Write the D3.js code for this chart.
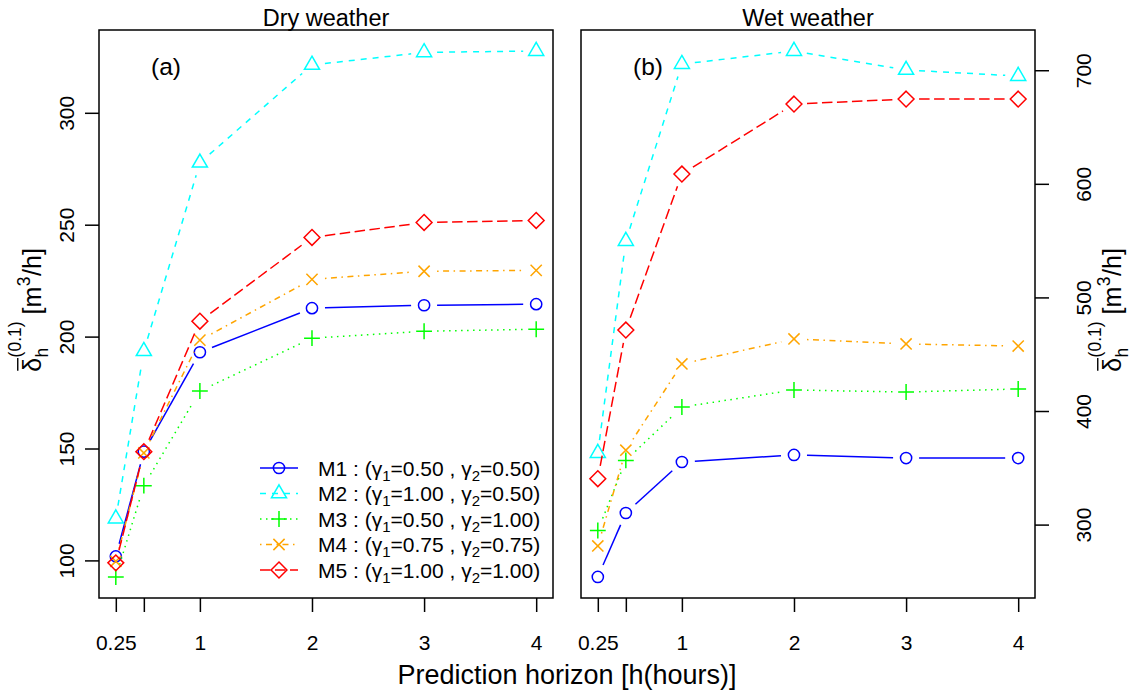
<!DOCTYPE html>
<html><head><meta charset="utf-8">
<script src="https://cdn.jsdelivr.net/npm/d3@7"></script>
<style>
body{margin:0;background:#fff;}
text{font-family:"Liberation Sans",Arial,Helvetica,sans-serif;fill:#000;}
</style></head>
<body><svg id="c" width="1133" height="695"></svg>
<script>
// ---------------- data ----------------
const horizons = [0.25, 0.5, 1, 2, 3, 4];
const xTickLabels = ["0.25", "", "1", "2", "3", "4"];
const modelNames = ["M1", "M2", "M3", "M4", "M5"];
const gamma1 = ["0.50", "1.00", "0.50", "0.75", "1.00"];
const gamma2 = ["0.50", "0.50", "1.00", "0.75", "1.00"];
const dryM1 = [101.8, 148.6, 193.0, 212.7, 214.0, 214.5];
const dryM2 = [118.7, 193.5, 277.7, 321.4, 327.0, 327.6];
const dryM3 = [92.6, 133.4, 175.7, 199.3, 202.4, 203.3];
const dryM4 = [99.6, 148.0, 198.4, 225.6, 229.2, 229.6];
const dryM5 = [98.9, 148.6, 206.9, 244.3, 251.0, 251.9];
const wetM1 = [253.9, 310.2, 355.1, 361.3, 358.6, 358.6];
const wetM2 = [363.0, 549.6, 705.4, 716.9, 700.2, 694.9];
const wetM3 = [294.8, 356.5, 403.5, 418.5, 416.7, 419.4];
const wetM4 = [281.2, 365.5, 441.4, 463.4, 459.0, 457.2];
const wetM5 = [340.4, 471.3, 608.6, 670.2, 674.6, 674.6];
const dryTicks = [100, 150, 200, 250, 300];
const wetTicks = [300, 400, 500, 600, 700];
const panelTitles = ["Dry weather", "Wet weather"];
const panelTags = ["(a)", "(b)"];
const xTitle = "Prediction horizon [h(hours)]";

// ---------------- styles ----------------
const colors = ["#0000FF", "#00FFFF", "#00FF00", "#FFA500", "#FF0000"];
const dashes = [null, "6,6", "1.5,4.5", "1.5,4.5,6,4.5", "10.5,4.5"];
const shapes = ["circle", "triangle", "plus", "cross", "diamond"];
const RAD = 5.6, GAP = 13, LW = 1.5;

const svg = d3.select("#c");
const panels = [
  {left: 99, right: 553, series: [dryM1, dryM2, dryM3, dryM4, dryM5], ticks: dryTicks, side: "left"},
  {left: 581, right: 1035, series: [wetM1, wetM2, wetM3, wetM4, wetM5], ticks: wetTicks, side: "right"}
];
const TOP = 30, BOTTOM = 598;

function marker(g, shape, x, y, col) {
  const R = RAD;
  if (shape === "circle") {
    g.append("circle").attr("cx", x).attr("cy", y).attr("r", R).attr("fill","none").attr("stroke",col).attr("stroke-width",LW);
    return;
  }
  let d;
  if (shape === "triangle") {
    const r = 1.555*R, yc = 0.778*R, xc = 1.347*R;
    d = `M${x},${y-r}L${x+xc},${y+yc}L${x-xc},${y+yc}Z`;
  } else if (shape === "plus") {
    const a = Math.SQRT2*R;
    d = `M${x-a},${y}L${x+a},${y}M${x},${y-a}L${x},${y+a}`;
  } else if (shape === "cross") {
    const a = R;
    d = `M${x-a},${y-a}L${x+a},${y+a}M${x-a},${y+a}L${x+a},${y-a}`;
  } else {
    const a = Math.SQRT2*R;
    d = `M${x},${y-a}L${x+a},${y}L${x},${y+a}L${x-a},${y}Z`;
  }
  g.append("path").attr("d", d).attr("fill", "none").attr("stroke", col).attr("stroke-width", LW);
}

panels.forEach((p, pi) => {
  const all = p.series.flat();
  const [mn, mx] = d3.extent(all);
  const pad = (mx - mn) * 0.04;
  const y = d3.scaleLinear().domain([mn - pad, mx + pad]).range([BOTTOM, TOP]);
  const xr = horizons[horizons.length-1] - horizons[0];
  const x = d3.scaleLinear().domain([horizons[0] - 0.04*xr, horizons[horizons.length-1] + 0.04*xr]).range([p.left, p.right]);
  const g = svg.append("g");

  // series lines (type "b": gaps around points)
  p.series.forEach((vals, si) => {
    const pts = vals.map((v, i) => [x(horizons[i]), y(v)]);
    for (let i = 0; i < pts.length - 1; i++) {
      const [x0, y0] = pts[i], [x1, y1] = pts[i+1];
      const L = Math.hypot(x1-x0, y1-y0);
      if (L <= 2*GAP) continue;
      const ux = (x1-x0)/L, uy = (y1-y0)/L;
      const ln = g.append("line")
        .attr("x1", x0 + ux*GAP).attr("y1", y0 + uy*GAP)
        .attr("x2", x1 - ux*GAP).attr("y2", y1 - uy*GAP)
        .attr("stroke", colors[si]).attr("stroke-width", LW);
      if (dashes[si]) ln.attr("stroke-dasharray", dashes[si]);
    }
    pts.forEach(([px, py]) => marker(g, shapes[si], px, py, colors[si]));
  });

  // box
  g.append("rect").attr("x", p.left).attr("y", TOP).attr("width", p.right - p.left).attr("height", BOTTOM - TOP)
    .attr("fill", "none").attr("stroke", "#000").attr("stroke-width", 1.5);

  // x axis
  const xa = d3.axisBottom(x).tickValues(horizons).tickSize(14).tickFormat((d, i) => xTickLabels[i]);
  const gx = svg.append("g").attr("transform", `translate(0,${BOTTOM})`).call(xa);
  gx.select(".domain").remove();
  gx.selectAll(".tick line").attr("stroke", "#000").attr("stroke-width", 1.5);
  gx.selectAll(".tick text").attr("font-size", 21).attr("dy", null).attr("y", 52)
    .style("font-family", '"Liberation Sans",Arial,sans-serif');

  // y axis
  const ya = (p.side === "left" ? d3.axisLeft(y) : d3.axisRight(y)).tickValues(p.ticks).tickSize(14).tickFormat(d3.format("d"));
  const gy = svg.append("g").attr("transform", `translate(${p.side === "left" ? p.left : p.right},0)`).call(ya);
  gy.select(".domain").remove();
  gy.selectAll(".tick line").attr("stroke", "#000").attr("stroke-width", 1.5);
  gy.selectAll(".tick text").attr("font-size", 21)
    .attr("x", null).attr("dy", null).attr("text-anchor", "middle")
    .attr("transform", p.side === "left" ? "translate(-25,0) rotate(-90)" : "translate(56,0) rotate(-90)")
    .style("font-family", '"Liberation Sans",Arial,sans-serif');

  // titles and tags
  svg.append("text").attr("x", (p.left + p.right)/2).attr("y", 26).attr("text-anchor", "middle")
    .attr("font-size", 23.5).text(panelTitles[pi]);
  svg.append("text").attr("x", p.left + 67).attr("y", 75).attr("text-anchor", "middle")
    .attr("font-size", 24.5).text(panelTags[pi]);

  // y title
  yTitle(p.side === "left" ? 41 : 1121, (TOP + BOTTOM)/2 - 4);
});

function yTitle(bx, cy) {
  const g = svg.append("g").attr("transform", `translate(${bx},${cy}) rotate(-90)`);
  const inner = g.append("g");
  const F = 25, S = 17.5;
  let cx = 0;
  const t1 = inner.append("text").attr("x", cx).attr("y", 0).attr("font-size", F).text("δ");
  const wd = t1.node().getComputedTextLength();
  inner.append("line").attr("x1", cx + 1).attr("x2", cx + wd).attr("y1", -F*0.93).attr("y2", -F*0.93)
    .attr("stroke", "#000").attr("stroke-width", 1.4);
  cx += wd + 0.5;
  const sub = inner.append("text").attr("x", cx).attr("y", 7).attr("font-size", S).text("h");
  const sup = inner.append("text").attr("x", cx).attr("y", -20).attr("font-size", S).text("(0.1)");
  cx += Math.max(sub.node().getComputedTextLength(), sup.node().getComputedTextLength());
  const t2 = inner.append("text").attr("x", cx).attr("y", 0).attr("font-size", F).attr("xml:space", "preserve").text(" [m");
  cx += t2.node().getComputedTextLength() + 0.5;
  const t3 = inner.append("text").attr("x", cx).attr("y", -11).attr("font-size", S).text("3");
  cx += t3.node().getComputedTextLength() + 0.5;
  const t4 = inner.append("text").attr("x", cx).attr("y", 0).attr("font-size", F).text("/h]");
  cx += t4.node().getComputedTextLength();
  inner.attr("transform", `translate(${-cx/2},0)`);
}

// x title
svg.append("text").attr("x", 567).attr("y", 684).attr("text-anchor", "middle").attr("font-size", 27).text(xTitle);

// legend (left panel, bottom right)
const legRowY = [468, 493.5, 519, 544.5, 570];
const lg = svg.append("g");
modelNames.forEach((m, i) => {
  const yy = legRowY[i];
  const ln = lg.append("line").attr("x1", 260).attr("x2", 298).attr("y1", yy).attr("y2", yy)
    .attr("stroke", colors[i]).attr("stroke-width", LW);
  if (dashes[i]) ln.attr("stroke-dasharray", dashes[i]);
  marker(lg, shapes[i], 279, yy, colors[i]);
  const t = lg.append("text").attr("x", 318).attr("y", yy + 7.5).attr("font-size", 21);
  t.append("tspan").text(`${m} : (γ`);
  t.append("tspan").attr("font-size", 15).attr("dy", 5).text("1");
  t.append("tspan").attr("dy", -5).text(`=${gamma1[i]} , γ`);
  t.append("tspan").attr("font-size", 15).attr("dy", 5).text("2");
  t.append("tspan").attr("dy", -5).text(`=${gamma2[i]})`);
});
</script></body></html>
